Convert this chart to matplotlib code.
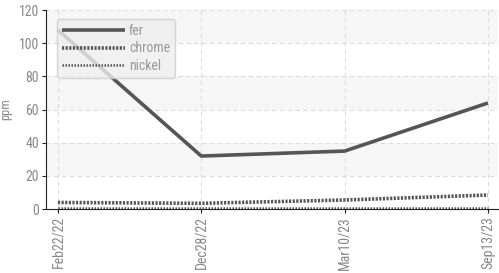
import matplotlib
matplotlib.use("Agg")
import matplotlib.pyplot as plt

dates = ["Feb22/22", "Dec28/22", "Mar10/23", "Sep13/23"]
fer = [108, 32, 35, 64]
chrome = [4, 3.5, 5.5, 8.5]
nickel = [0.5, 0.5, 0.5, 0.5]

plt.rcParams['font.family'] = ['Roboto Condensed', 'DejaVu Sans']

fig = plt.figure(figsize=(4.99, 2.73), dpi=100)
ax = fig.add_axes([0.092, 0.234, 0.906, 0.729])

x = list(range(len(dates)))
# alternating bands
for lo in (20, 60, 100):
    ax.axhspan(lo, lo + 20, color="#f6f6f6", zorder=0, lw=0)

ax.plot(x, fer, color="#555555", lw=2.6, label="fer", solid_capstyle="butt", zorder=3)
ax.plot(x, chrome, color="#555555", lw=2.6, ls=(0, (0.6, 0.4)), label="chrome", zorder=3)
ax.plot(x, nickel, color="#555555", lw=1.8, ls=(0, (0.6, 0.6)), label="nickel", zorder=3)

ax.set_xlim(-0.084, 3.07)
ax.set_ylim(0, 120)
ax.set_yticks([0, 20, 40, 60, 80, 100, 120])
ax.set_xticks(x)
ax.set_xticklabels(dates, rotation=90)
ax.grid(True, color="#dddddd", ls=(0, (4, 3)), lw=0.8, zorder=1)

for s in ("top", "right"):
    ax.spines[s].set_visible(False)
ax.spines["left"].set_color("#222222")
ax.spines["bottom"].set_color("#222222")
ax.tick_params(axis="both", colors="#222222", labelcolor="#888888", labelsize=10, length=3, pad=2)
ax.set_ylabel("ppm", color="#888888", fontsize=9, labelpad=5)

leg = ax.legend(loc="upper left", bbox_to_anchor=(0.01, 0.99), fontsize=10, frameon=True,
                fancybox=True, facecolor="#eeeeee", edgecolor="#cccccc", framealpha=0.8,
                handlelength=4.5, handletextpad=0.3, labelspacing=0.25, borderpad=0.35)
for t in leg.get_texts():
    t.set_color("#999999")

fig.savefig("out.png", dpi=100)
